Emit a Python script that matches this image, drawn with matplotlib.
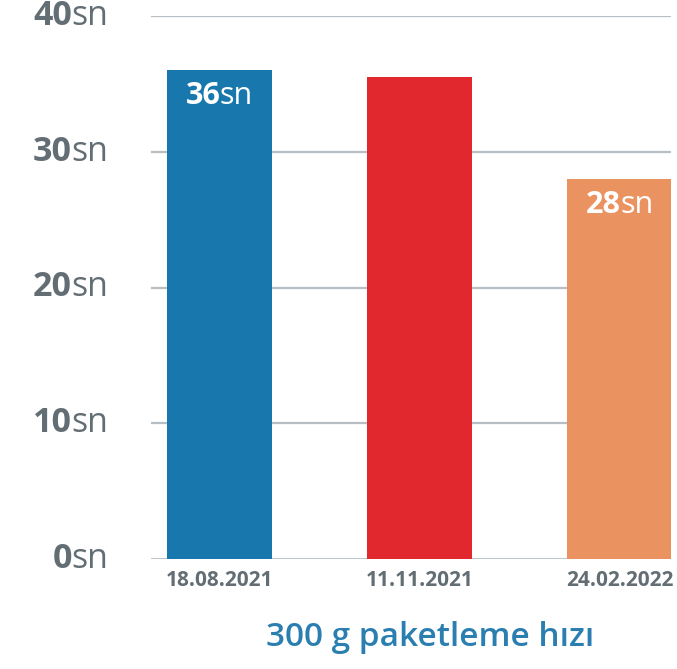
import matplotlib
matplotlib.use("Agg")
import matplotlib.pyplot as plt
import matplotlib.transforms as mtransforms

# Data
dates = ["18.08.2021", "11.11.2021", "24.02.2022"]
seconds = [36, 35.5, 28]
show_value = [True, False, True]
bar_colors = ["#1878ad", "#e1282f", "#ea9361"]
yticks = [0, 10, 20, 30, 40]
unit = "sn"
title = "300 g paketleme hızı"

GRAY = "#636e74"
GRID = "#b7bfc5"
FONT = ["Open Sans", "DejaVu Sans"]

W, H, DPI = 677, 669, 100
fig = plt.figure(figsize=(W / DPI, H / DPI), dpi=DPI)
ax = fig.add_axes([151 / W, 1 - 559 / H, (671 - 151) / W, (559 - 16) / H])

x = list(range(len(dates)))
ax.bar(x, seconds, width=0.525, color=bar_colors, zorder=3)
ax.set_xlim(-0.3425, 2.255)
ax.set_ylim(0, 40)

for v in yticks:
    ax.axhline(v, color=GRID, lw=1.6 if v else 2.0, zorder=1)

for s in ax.spines.values():
    s.set_visible(False)
ax.set_xticks([])
ax.set_yticks([])

# y tick labels: bold number followed by regular unit
ytrans = mtransforms.blended_transform_factory(fig.transFigure, ax.transData)
for v in yticks:
    t_sn = ax.text(108 / W, v, unit, transform=ytrans, ha="right", va="center",
                   fontsize=24.5, family=FONT, color=GRAY, clip_on=False)
    ax.annotate(str(v), xy=(0.02, 0), xycoords=t_sn, ha="right", va="bottom",
                fontsize=24.5, family=FONT, fontweight="bold", color=GRAY,
                annotation_clip=False)

# date labels under the bars
xtrans = mtransforms.blended_transform_factory(ax.transData, fig.transFigure)
for xi, d in zip(x, dates):
    ax.text(xi, 1 - 580 / H, d, transform=xtrans, ha="center", va="center",
            fontsize=15, family=FONT, fontweight="bold", color=GRAY)

# title below the chart
fig.text(430 / W, 1 - 637 / H, title, ha="center", va="center",
         fontsize=24, family=FONT, fontweight="semibold", color="#2a7fb0")

# value labels inside the bars
renderer = fig.canvas.get_renderer()
for xi, v, c, show in zip(x, seconds, bar_colors, show_value):
    if not show:
        continue
    num = f"{v:g}"
    probe_n = ax.text(0, 0, num, fontsize=22, family=FONT, fontweight="bold")
    probe_u = ax.text(0, 0, unit, fontsize=22, family=FONT)
    wn = probe_n.get_window_extent(renderer).width
    wu = probe_u.get_window_extent(renderer).width
    probe_n.remove()
    probe_u.remove()
    dx = (wn - (wn + wu) / 2) * 72 / DPI
    t_num = ax.annotate(num, xy=(xi, v), xytext=(dx, -26 * 72 / DPI),
                        textcoords="offset points", ha="right", va="center",
                        fontsize=22, family=FONT, fontweight="bold",
                        color="white", zorder=5)
    ax.annotate(unit, xy=(0.98, 0), xycoords=t_num, ha="left", va="bottom",
                fontsize=22, family=FONT, color="white", zorder=5)

fig.savefig("out.png", dpi=DPI)
